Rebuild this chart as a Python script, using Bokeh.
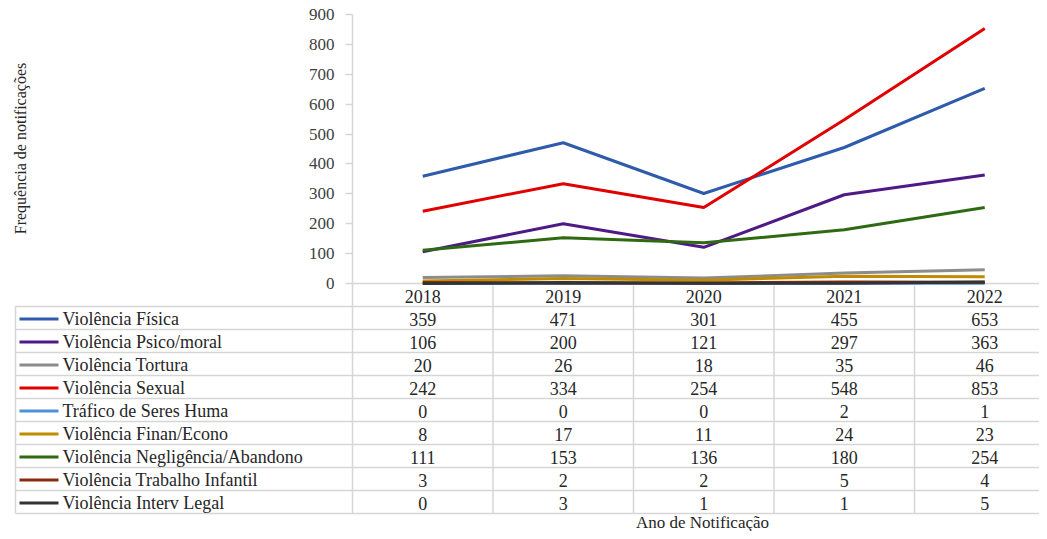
from bokeh.plotting import figure
from bokeh.models import Range1d, LinearAxis, FixedTicker
from bokeh.core.properties import value
from bokeh.embed import file_html
from bokeh.resources import INLINE

# ---------------- data ----------------
years = ["2018", "2019", "2020", "2021", "2022"]
series_names = [
    "Violência Física",
    "Violência Psico/moral",
    "Violência Tortura",
    "Violência Sexual",
    "Tráfico de Seres Huma",
    "Violência  Finan/Econo",
    "Violência  Negligência/Abandono",
    "Violência  Trabalho Infantil",
    "Violência  Interv Legal",
]
fisica = [359, 471, 301, 455, 653]
psico_moral = [106, 200, 121, 297, 363]
tortura = [20, 26, 18, 35, 46]
sexual = [242, 334, 254, 548, 853]
trafico = [0, 0, 0, 2, 1]
finan_econo = [8, 17, 11, 24, 23]
negligencia = [111, 153, 136, 180, 254]
trabalho_infantil = [3, 2, 2, 5, 4]
interv_legal = [0, 3, 1, 1, 5]
y_ticks = [0, 100, 200, 300, 400, 500, 600, 700, 800, 900]
y_title = "Frequência de notificações"
x_title = "Ano de Notificação"

series_values = [fisica, psico_moral, tortura, sexual, trafico,
                 finan_econo, negligencia, trabalho_infantil, interv_legal]
colors = ["#2E5BAA", "#4E1A86", "#8C8C8C", "#E00000", "#4F90D6",
          "#BF8C00", "#2E6A12", "#8B2A0C", "#333333"]

# ---------------- layout (figure pixels) ----------------
W, H = 1039, 531
AXIS_PX = 352          # x pixel of the value axis / first column boundary
COL_W = 140.5          # width of one year column
TOP_PX = 14            # pixel of the top tick (900)
ZERO_PX = 283          # pixel of 0
HEADER_H = 23
ROW_H = 23
LEG_LEFT = 15
SW_L, SW_R, LBL_X = 19, 58, 62
TITLE_Y = 522
Y_TITLE_X, Y_TITLE_Y = 20, 148

ppu = (ZERO_PX - TOP_PX) / y_ticks[-1]


def xd(px):
    return (px - AXIS_PX) / COL_W


def yd(py):
    return (ZERO_PX - py) / ppu


FONT = value("Liberation Serif")
TXT = "#262626"
GRID = "#D6D6D6"

p = figure(width=W, height=H, output_backend="svg", toolbar_location=None,
           x_range=Range1d(xd(0), xd(W)), y_range=Range1d(yd(H), yd(0)),
           x_axis_type=None, y_axis_type=None,
           min_border=0, min_border_left=0, min_border_right=0,
           min_border_top=0, min_border_bottom=0)
p.outline_line_color = None
p.xgrid.visible = False
p.ygrid.visible = False
p.background_fill_color = "white"
p.border_fill_color = "white"

n = len(years)
xs_center = [i + 0.5 for i in range(n)]
x_end = xd(W)

# value axis
yax = LinearAxis(fixed_location=0, bounds=(y_ticks[0], y_ticks[-1]),
                 ticker=FixedTicker(ticks=y_ticks))
yax.axis_line_color = GRID
yax.axis_line_width = 1.5
yax.major_tick_line_color = GRID
yax.major_tick_line_width = 1.5
yax.major_tick_out = 7
yax.major_tick_in = 0
yax.minor_tick_line_color = None
yax.major_label_standoff = 11
yax.major_label_text_font = "Liberation Serif"
yax.major_label_text_font_size = "17px"
yax.major_label_text_color = "#404040"
p.add_layout(yax, "left")

# table geometry
header_bottom = ZERO_PX + HEADER_H
row_lines = [header_bottom + k * ROW_H for k in range(len(series_names) + 1)]
table_bottom = row_lines[-1]

# horizontal axis line at zero
p.segment(x0=[0], y0=[0], x1=[x_end], y1=[0], line_color=GRID, line_width=1.5)
# vertical axis continues through table
p.segment(x0=[0], y0=[0], x1=[0], y1=[yd(table_bottom)], line_color=GRID, line_width=1.5)
# column separators
p.segment(x0=list(range(1, n)), y0=[yd(ZERO_PX + 2)] * (n - 1),
          x1=list(range(1, n)), y1=[yd(table_bottom)] * (n - 1),
          line_color=GRID, line_width=1.5)
# row separators
p.segment(x0=[xd(LEG_LEFT)] * len(row_lines), y0=[yd(r) for r in row_lines],
          x1=[x_end] * len(row_lines), y1=[yd(r) for r in row_lines],
          line_color=GRID, line_width=1.5)
# legend column left border
p.segment(x0=[xd(LEG_LEFT)], y0=[yd(header_bottom)], x1=[xd(LEG_LEFT)],
          y1=[yd(table_bottom)], line_color=GRID, line_width=1.5)

# lines
for vals, col in zip(series_values, colors):
    p.line(x=xs_center, y=vals, line_color=col, line_width=3)

# header years
p.text(x=xs_center, y=[yd(ZERO_PX + HEADER_H / 2 + 1)] * n, text=years,
       text_font=FONT, text_font_size="18px", text_color=TXT,
       text_align="center", text_baseline="middle")

# table rows
for r, (name, vals, col) in enumerate(zip(series_names, series_values, colors)):
    cy = yd(header_bottom + (r + 0.5) * ROW_H + 1)
    p.segment(x0=[xd(SW_L)], y0=[cy], x1=[xd(SW_R)], y1=[cy],
              line_color=col, line_width=3)
    p.text(x=[xd(LBL_X)], y=[cy], text=[name], text_font=FONT,
           text_font_size="18px", text_color=TXT,
           text_align="left", text_baseline="middle")
    p.text(x=xs_center, y=[cy] * n, text=[str(v) for v in vals],
           text_font=FONT, text_font_size="18px", text_color=TXT,
           text_align="center", text_baseline="middle")

# titles
p.text(x=[xd(702)], y=[yd(TITLE_Y)], text=[x_title],
       text_font=FONT, text_font_size="17px", text_color=TXT,
       text_align="center", text_baseline="middle")
p.text(x=[xd(Y_TITLE_X)], y=[yd(Y_TITLE_Y)], text=[y_title], angle=1.5708,
       text_font=FONT, text_font_size="16px", text_color=TXT,
       text_align="center", text_baseline="middle")

open("out.html", "w").write(file_html(p, INLINE))
